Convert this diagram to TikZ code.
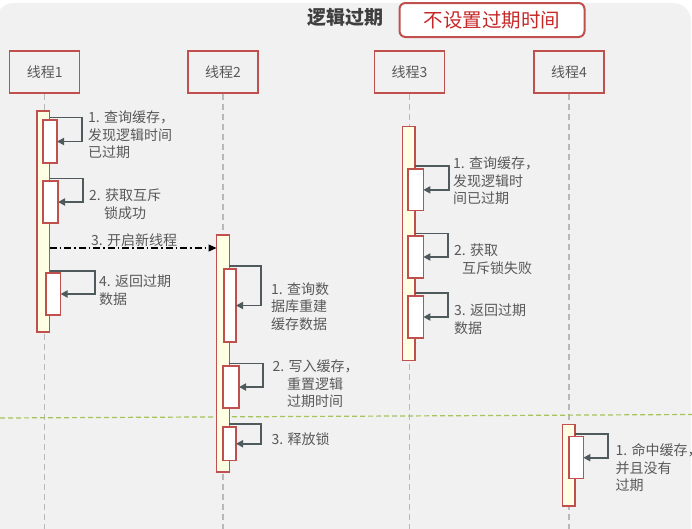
\documentclass[tikz,border=0pt]{standalone}
\usepackage{fontspec}
\setmainfont{Noto Sans CJK SC}
\usetikzlibrary{arrows.meta}
\definecolor{panel}{HTML}{F1F1F1}
\definecolor{boxred}{HTML}{C0504D}
\definecolor{txtgray}{HTML}{595959}
\definecolor{titlegray}{HTML}{3F3F3F}
\definecolor{arrowgray}{HTML}{4F5A5C}
\definecolor{barfill}{HTML}{FFFFE3}
\definecolor{sepgreen}{HTML}{A5C25C}
\definecolor{noexpire}{HTML}{C62828}
\definecolor{lifegray}{HTML}{B8B8B8}

\begin{document}
\begin{tikzpicture}[x=1pt,y=-1pt,
  thread/.style={draw=boxred, line width=1.4pt, minimum width=70pt, minimum height=42pt,
    inner sep=0pt, text=txtgray, font=\fontsize{14}{16}\selectfont},
  life/.style={draw=lifegray, line width=1.2pt, dash pattern=on 6pt off 4pt},
  bar/.style={draw=boxred, fill=barfill, line width=1.3pt, minimum width=12.7pt,
    inner sep=0pt, outer sep=0pt, anchor=north west},
  act/.style={draw=boxred, fill=white, line width=1.3pt, inner sep=0pt, outer sep=0pt,
    anchor=north west},
  self/.style={draw=arrowgray, line width=1.8pt, -{Triangle[length=7pt,width=7pt]}},
  call/.style={draw=black, line width=1.1pt, dash pattern=on 7pt off 3pt on 1.5pt off 3pt,
    -{Triangle[length=8pt,width=7pt]}},
  % labels are placed by the baseline of their last line
  lbl/.style={text=txtgray, font=\fontsize{14}{17.5}\selectfont, align=left,
    anchor=base west, inner sep=0pt},
]
\useasboundingbox (0,0) rectangle (692,528);
\fill[white] (0,0) rectangle (692,528);
\clip (0,0) rectangle (692,528);

% background panel
\fill[panel, rounded corners=18pt] (-4,3) rectangle (691,580);

% header
\node[text=titlegray, font=\fontsize{19}{22}\selectfont\bfseries] (title) at (345.5,17) {逻辑过期};
\node[draw=boxred, line width=2pt, rounded corners=6pt, fill=white, minimum width=185pt,
  minimum height=34pt, inner sep=0pt, text=noexpire, font=\fontsize{19.5}{22}\selectfont]
  (mode) at (492,20) {不设置过期时间};

% thread heads
\node[thread] (t1) at (44.7,72) {线程1};
\node[thread] (t2) at (223,72) {线程2};
\node[thread] (t3) at (409.5,72) {线程3};
\node[thread] (t4) at (569,72) {线程4};

% lifelines
\coordinate (e1) at (44.7,530);
\coordinate (e2) at (223,530);
\coordinate (e3) at (409.5,530);
\coordinate (e4) at (569,530);
\draw[life] (t1.south) -- (e1);
\draw[life] (t2.south) -- (e2);
\draw[life] (t3.south) -- (e3);
\draw[life] (t4.south) -- (e4);

% separator between the two phases
\coordinate (sl) at (0,418);
\coordinate (sr) at (692,414.5);
\draw[sepgreen, line width=1.2pt, dash pattern=on 5pt off 3pt] (sl) -- (sr);

% activation bars
\node[bar, minimum height=221pt] (b1) at (37,111) {};
\node[bar, minimum height=237pt] (b2) at (216.5,235) {};
\node[bar, minimum height=234pt] (b3) at (402.3,126.7) {};
\node[bar, minimum height=81.7pt] (b4) at (562.3,424.3) {};

% nested activations
\node[act, minimum width=14pt, minimum height=43pt] (a11) at (43,120) {};
\node[act, minimum width=15pt, minimum height=42pt] (a12) at (43,181) {};
\node[act, minimum width=14.5pt, minimum height=42pt] (a13) at (46,273) {};
\node[act, minimum width=12pt, minimum height=73pt] (a21) at (224,269) {};
\node[act, minimum width=16pt, minimum height=42pt] (a22) at (223,366) {};
\node[act, minimum width=13pt, minimum height=33.5pt] (a23) at (223,427) {};
\node[act, minimum width=15.3pt, minimum height=41.7pt] (a31) at (408,169) {};
\node[act, minimum width=15.3pt, minimum height=42pt] (a32) at (408,236) {};
\node[act, minimum width=15.3pt, minimum height=42pt] (a33) at (408,296) {};
\node[act, minimum width=14.3pt, minimum height=42pt] (a41) at (569,436.7) {};

% self calls
\draw[self] (b1.east |- a11.north) ++(0,2.5pt) -- ++(32,0) |- (a11.east);
\draw[self] (b1.east |- a12.north) ++(0,2.5pt) -- ++(33,0) |- (a12.east);
\draw[self] (b1.east |- a13.north) ++(0,2pt) -- ++(45,0) |- (a13.east);
\draw[self] (b2.east |- a21.north) ++(0,3pt) -- ++(32,0) |- (a21.east);
\draw[self] (b2.east |- a22.north) ++(0,2.5pt) -- ++(34,0) |- (a22.east);
\draw[self] (b2.east |- a23.north) ++(0,3pt) -- ++(32,0) |- (a23.east);
\draw[self] (b3.east |- a31.north) ++(0,3pt) -- ++(34,0) |- (a31.east);
\draw[self] (b3.east |- a32.north) ++(0,2.5pt) -- ++(33,0) |- (a32.east);
\draw[self] (b3.east |- a33.north) ++(0,3pt) -- ++(33,0) |- (a33.east);
\draw[self] (b4.east |- a41.north) ++(0,3pt) -- ++(33,0) |- (a41.east);

% thread 1 starts thread 2
\draw[call] (b1.east |- 0,248) -- (b2.west |- 0,248);

% step labels
\node[lbl] (l11) at (88,157.5) {1. 查询缓存，\\发现逻辑时间\\已过期};
\node[lbl] (l12) at (89,218) {2. 获取互斥\\\hspace*{15pt}锁成功};
\node[lbl] (l13) at (91,245.5) {3. 开启新线程};
\node[lbl] (l14) at (99,304) {4. 返回过期\\数据};
\node[lbl] (l21) at (271,329) {1. 查询数\\据库重建\\缓存数据};
\node[lbl] (l22) at (272.5,406.5) {2. 写入缓存，\\\hspace*{14.5pt}重置逻辑\\\hspace*{14.5pt}过期时间};
\node[lbl] (l23) at (271.5,444.5) {3. 释放锁};
\node[lbl] (l31) at (453,203.5) {1. 查询缓存，\\发现逻辑时\\间已过期};
\node[lbl] (l32) at (454,273) {2. 获取\\\hspace*{8pt}互斥锁失败};
\node[lbl] (l33) at (454,333) {3. 返回过期\\数据};
\node[lbl] (l41) at (615.5,490.5) {1. 命中缓存，\\并且没有\\过期};
\end{tikzpicture}
\end{document}
